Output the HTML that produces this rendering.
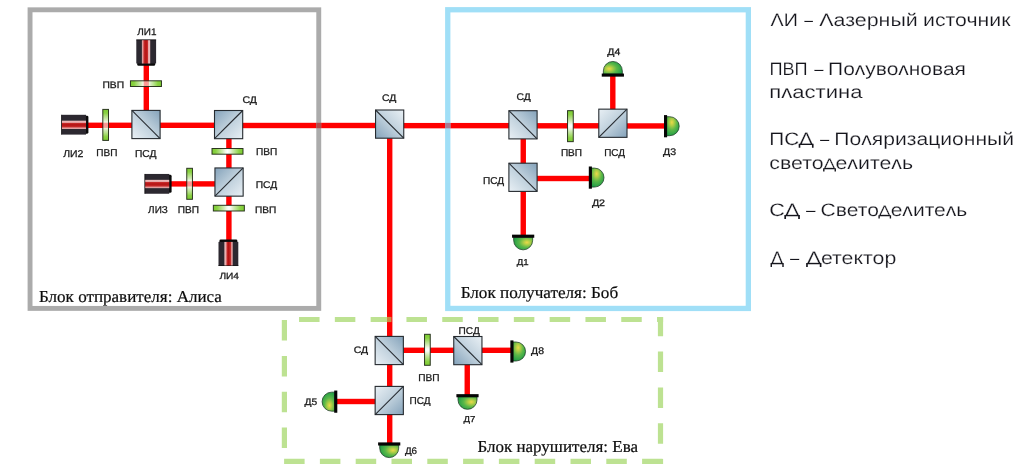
<!DOCTYPE html>
<html lang="ru">
<head>
<meta charset="utf-8">
<title>Схема</title>
<style>
html,body{margin:0;padding:0;background:#fff;}
body{width:1024px;height:475px;overflow:hidden;font-family:"Liberation Sans",sans-serif;}
svg{display:block;will-change:transform;}
text{white-space:pre;text-rendering:geometricPrecision;}
</style>
</head>
<body>
<svg width="1024" height="475" viewBox="0 0 1024 475">

<defs>
  <linearGradient id="gCube" x1="0" y1="1" x2="1" y2="0">
    <stop offset="0" stop-color="#e9f0f5"/>
    <stop offset="0.5" stop-color="#bfd0dc"/>
    <stop offset="1" stop-color="#84a2ba"/>
  </linearGradient>
  <g id="cube">
    <rect x="-14.1" y="-14.1" width="28.2" height="28.2" fill="url(#gCube)" stroke="#262b30" stroke-width="1.1"/>
    <line x1="-14.1" y1="-14.1" x2="14.1" y2="14.1" stroke="#262b30" stroke-width="1.1"/>
  </g>
  <linearGradient id="gPlate" x1="0" y1="0" x2="1" y2="0">
    <stop offset="0" stop-color="#7ccb33"/>
    <stop offset="0.12" stop-color="#8ad242"/>
    <stop offset="0.34" stop-color="#cfeab3" stop-opacity="0.9"/>
    <stop offset="0.44" stop-color="#f3faec" stop-opacity="0.64"/>
    <stop offset="0.5" stop-color="#ffffff" stop-opacity="0.58"/>
    <stop offset="0.56" stop-color="#f3faec" stop-opacity="0.64"/>
    <stop offset="0.66" stop-color="#cfeab3" stop-opacity="0.9"/>
    <stop offset="0.88" stop-color="#8ad242"/>
    <stop offset="1" stop-color="#7ccb33"/>
  </linearGradient>
  <linearGradient id="gPlateO" x1="0" y1="0" x2="1" y2="0">
    <stop offset="0" stop-color="#7ccb33"/>
    <stop offset="0.12" stop-color="#8ad242"/>
    <stop offset="0.34" stop-color="#cfeab3"/>
    <stop offset="0.44" stop-color="#f3faec"/>
    <stop offset="0.5" stop-color="#ffffff"/>
    <stop offset="0.56" stop-color="#f3faec"/>
    <stop offset="0.66" stop-color="#cfeab3"/>
    <stop offset="0.88" stop-color="#8ad242"/>
    <stop offset="1" stop-color="#7ccb33"/>
  </linearGradient>
  <g id="plate">
    <rect x="-15.5" y="-2.85" width="31" height="5.7" fill="url(#gPlate)" stroke="#1b2312" stroke-opacity="0.9" stroke-width="1.0"/>
  </g>
  <g id="plateO">
    <rect x="-15.5" y="-2.85" width="31" height="5.7" fill="url(#gPlateO)" stroke="#1b2312" stroke-opacity="0.9" stroke-width="1.0"/>
  </g>
  <linearGradient id="gStripe" x1="0" y1="0" x2="1" y2="0">
    <stop offset="0" stop-color="#e6adad"/>
    <stop offset="0.15" stop-color="#df8e8e"/>
    <stop offset="0.24" stop-color="#ca2c2c"/>
    <stop offset="0.5" stop-color="#b31212"/>
    <stop offset="0.7" stop-color="#ca2c2c"/>
    <stop offset="0.79" stop-color="#e8a6a6"/>
    <stop offset="1" stop-color="#efc0c0"/>
  </linearGradient>
  <g id="laser">
    <path d="M-9.0,-4 H9.0 V-1.3 Q9.0,0 7.6,0 H-7.6 Q-9.0,0 -9.0,-1.3 Z" fill="#0a0a0a"/>
    <rect x="-9.9" y="-26.2" width="19.8" height="23.9" fill="#2c2830"/>
    <rect x="-9.9" y="-26.2" width="19.8" height="0.7" fill="#111"/>
    <rect x="-4.3" y="-25.6" width="8.3" height="23.3" fill="url(#gStripe)"/>
  </g>
  <radialGradient id="gDet" cx="0.30" cy="0.58" r="0.72">
    <stop offset="0" stop-color="#ecd94a"/>
    <stop offset="0.22" stop-color="#b5cf45"/>
    <stop offset="0.55" stop-color="#5cb848"/>
    <stop offset="1" stop-color="#1f9d47"/>
  </radialGradient>
  <g id="det">
    <path d="M-9.5,-2.5 V-5.7 A9.5,9.5 0 0 1 9.5,-5.7 V-2.5 Z" fill="url(#gDet)" stroke="#1c3a22" stroke-width="0.75"/>
    <rect x="-11.1" y="-3.1" width="22.2" height="3.1" fill="#050505"/>
  </g>
</defs>

<g id="beams">
<rect x="87" y="122.60" width="128.00" height="5.4" fill="#ff0000"/>
<rect x="242" y="122.80" width="134.00" height="5.4" fill="#ff0000"/>
<rect x="403" y="122.95" width="107.00" height="5.4" fill="#ff0000"/>
<rect x="536" y="123.10" width="64.00" height="5.4" fill="#ff0000"/>
<rect x="626" y="123.25" width="39.00" height="5.4" fill="#ff0000"/>
<rect x="143.60" y="64" width="5.4" height="47.00" fill="#ff0000"/>
<rect x="226.20" y="138" width="5.4" height="103.00" fill="#ff0000"/>
<rect x="170" y="181.20" width="45.00" height="5.4" fill="#ff0000"/>
<rect x="387.00" y="137" width="5.4" height="306.00" fill="#ff0000"/>
<rect x="402" y="347.60" width="109.00" height="5.4" fill="#ff0000"/>
<rect x="464.55" y="363" width="5.4" height="32.00" fill="#ff0000"/>
<rect x="336" y="398.80" width="40.00" height="5.4" fill="#ff0000"/>
<rect x="520.55" y="138" width="5.4" height="98.00" fill="#ff0000"/>
<rect x="536" y="175.80" width="53.50" height="5.4" fill="#ff0000"/>
<rect x="610.10" y="75" width="5.4" height="35.00" fill="#ff0000"/>
</g>
<g id="boxes" fill="none">
<rect x="30.05" y="9.8" width="288.7" height="298.6" stroke="#ababab" stroke-width="4.9"/>
<rect x="447.75" y="9.75" width="300.6" height="298.7" stroke="#a0dff7" stroke-width="5.3"/>
<rect x="316.3" y="122.8" width="4.9" height="5.4" fill="#b04848" stroke="none"/>
<rect x="445.1" y="122.9" width="5.3" height="5.4" fill="#a87890" stroke="none"/>
<g stroke="#bde292" stroke-width="5.2" stroke-dasharray="20.5 15.3">
<line x1="299.05" y1="319.5" x2="663.1" y2="319.5"/>
<line x1="284.1" y1="461.45" x2="663.1" y2="461.45"/>
<line x1="284.4" y1="320.1" x2="284.4" y2="450"/>
<line x1="660.5" y1="316.9" x2="660.5" y2="464.05" stroke-dashoffset="1.1"/>
</g>
<rect x="387.0" y="316.9" width="4.3" height="5.2" fill="#cc8840" stroke="none"/>
</g>
<g id="parts">
<use href="#laser" transform="translate(146.20,65.80) rotate(0) scale(1,1.0)"/>
<use href="#plate" transform="translate(145.95,83.65)"/>
<use href="#laser" transform="translate(88.40,124.70) rotate(-90) scale(1,1.033)"/>
<use href="#plate" transform="translate(105.65,124.90) rotate(90)"/>
<use href="#cube" transform="translate(146.00,124.50) rotate(0)"/>
<use href="#cube" transform="translate(228.60,124.60) rotate(-90)"/>
<use href="#plateO" transform="translate(227.50,151.35)"/>
<use href="#cube" transform="translate(229.05,182.05) rotate(-90)"/>
<use href="#laser" transform="translate(171.60,183.85) rotate(-90) scale(1,1.03)"/>
<use href="#plate" transform="translate(189.60,183.80) rotate(90)"/>
<use href="#plateO" transform="translate(228.85,208.15)"/>
<use href="#laser" transform="translate(228.40,239.60) rotate(180) scale(1,1.008)"/>
<use href="#cube" transform="translate(389.65,124.10) rotate(180)"/>
<use href="#cube" transform="translate(523.00,124.80) rotate(0)"/>
<use href="#plateO" transform="translate(570.40,126.15) rotate(90)"/>
<use href="#cube" transform="translate(612.90,123.25) rotate(90)"/>
<use href="#det" transform="translate(612.85,76.65) rotate(0)"/>
<use href="#det" transform="translate(664.00,126.20) rotate(90)"/>
<use href="#cube" transform="translate(523.00,177.30) rotate(0)"/>
<use href="#det" transform="translate(588.80,177.60) rotate(90)"/>
<use href="#det" transform="translate(523.15,234.65) rotate(180)"/>
<use href="#cube" transform="translate(389.25,350.50) rotate(0)"/>
<use href="#plateO" transform="translate(427.40,349.80) rotate(90)"/>
<use href="#cube" transform="translate(467.85,350.60) rotate(180)"/>
<use href="#det" transform="translate(510.35,351.50) rotate(90)"/>
<use href="#det" transform="translate(467.50,394.15) rotate(180)"/>
<use href="#cube" transform="translate(389.25,400.50) rotate(90)"/>
<use href="#det" transform="translate(337.30,401.65) rotate(-90)"/>
<use href="#det" transform="translate(389.20,442.40) rotate(180)"/>
</g>
<g id="labels" font-family="'Liberation Sans', sans-serif" fill="#1a1a1a" stroke="#1a1a1a" stroke-width="0.28">
<text transform="translate(137.30,35.00) scale(1.0392,1)" font-size="9.57">ЛИ1</text>
<text transform="translate(102.38,87.90) scale(1.0771,1)" font-size="9.57">ПВП</text>
<text transform="translate(63.20,157.00) scale(1.0428,1)" font-size="10.00">ЛИ2</text>
<text transform="translate(96.30,156.10) scale(1.0124,1)" font-size="9.93">ПВП</text>
<text transform="translate(134.88,157.00) scale(1.0250,1)" font-size="10.00">ПСД</text>
<text transform="translate(242.47,103.00) scale(1.1006,1)" font-size="9.57">СД</text>
<text transform="translate(255.99,154.90) scale(1.0103,1)" font-size="10.00">ПВП</text>
<text transform="translate(255.68,187.60) scale(1.0551,1)" font-size="9.71">ПСД</text>
<text transform="translate(148.10,213.20) scale(0.9948,1)" font-size="10.00">ЛИЗ</text>
<text transform="translate(177.69,212.90) scale(1.0250,1)" font-size="9.86">ПВП</text>
<text transform="translate(254.89,212.90) scale(1.0635,1)" font-size="9.50">ПВП</text>
<text transform="translate(219.40,278.75) scale(1.1199,1)" font-size="9.07">ЛИ4</text>
<text transform="translate(381.88,101.30) scale(1.0928,1)" font-size="9.50">СД</text>
<text transform="translate(516.58,99.60) scale(1.0767,1)" font-size="9.57">СД</text>
<text transform="translate(560.90,156.10) scale(1.0052,1)" font-size="10.00">ПВП</text>
<text transform="translate(604.20,156.10) scale(0.9950,1)" font-size="10.00">ПСД</text>
<text transform="translate(663.09,154.60) scale(1.1068,1)" font-size="9.57">Д3</text>
<text transform="translate(607.29,55.00) scale(1.0975,1)" font-size="9.57">Д4</text>
<text transform="translate(482.99,184.40) scale(1.0100,1)" font-size="10.00">ПСД</text>
<text transform="translate(591.89,205.70) scale(1.1331,1)" font-size="9.43">Д2</text>
<text transform="translate(516.80,265.40) scale(1.1083,1)" font-size="8.71">Д1</text>
<text transform="translate(353.68,353.10) scale(1.1092,1)" font-size="9.43">СД</text>
<text transform="translate(418.29,380.60) scale(1.0155,1)" font-size="10.00">ПВП</text>
<text transform="translate(458.59,333.50) scale(1.0321,1)" font-size="9.79">ПСД</text>
<text transform="translate(531.05,353.80) scale(1.0935,1)" font-size="9.57">Д8</text>
<text transform="translate(463.50,422.40) scale(1.1230,1)" font-size="8.60">Д7</text>
<text transform="translate(409.50,403.60) scale(1.0122,1)" font-size="9.93">ПСД</text>
<text transform="translate(304.55,405.00) scale(1.0758,1)" font-size="9.57">Д5</text>
<text transform="translate(404.90,453.55) scale(1.0348,1)" font-size="9.50">Д6</text>
</g>
<g id="caps" font-family="'Liberation Serif', serif" fill="#0d0d0d" stroke="#0d0d0d" stroke-width="0.2">
<text transform="translate(38.99,301.60) scale(1.0217,1)" font-size="16.7">Блок отправителя: Алиса</text>
<text transform="translate(460.64,297.90) scale(1.0272,1)" font-size="16.7">Блок получателя: Боб</text>
<text transform="translate(477.39,451.55) scale(1.0188,1)" font-size="16.7">Блок нарушителя: Ева</text>
</g>
<g id="legend" font-family="'Liberation Sans', sans-serif" fill="#15151c" stroke="#fff" stroke-width="0.18">
<text transform="translate(770.50,26.3) scale(1.0938,1)" font-size="18.0">ΛИ</text>
<text transform="translate(804.25,26.3) scale(0.8750,1)" font-size="18.0">–</text>
<text transform="translate(819.25,26.3) scale(1.1890,1)" font-size="18.0">Λазерный</text>
<text transform="translate(923.07,26.3) scale(1.1815,1)" font-size="18.0">источник</text>
<text transform="translate(769.49,74.5) scale(1.0069,1)" font-size="18.0">ПВП</text>
<text transform="translate(814.25,74.5) scale(0.9250,1)" font-size="18.0">–</text>
<text transform="translate(828.09,74.5) scale(1.1638,1)" font-size="18.0">Поᴧувоᴧновая</text>
<text transform="translate(769.27,97.6) scale(1.2267,1)" font-size="18.0">пᴧастина</text>
<text transform="translate(769.35,145.1) scale(1.1516,1)" font-size="18.0">ПСΔ</text>
<path transform="translate(769.35,145.1) scale(1.1516,1)" d="M25.47,-1.30H38.40V2.70H36.99V0H26.88V2.70H25.47Z" stroke="none"/>
<text transform="translate(820.00,145.1) scale(0.9250,1)" font-size="18.0">–</text>
<text transform="translate(834.33,145.1) scale(1.1722,1)" font-size="18.0">Поᴧяризационный</text>
<text transform="translate(769.32,169.3) scale(1.1833,1)" font-size="18.0">свето<tspan font-size="15.12">Δ</tspan>еᴧитеᴧь</text>
<path transform="translate(769.32,169.3) scale(1.1833,1)" d="M45.45,-1.09H56.31V2.27H55.13V0H46.63V2.27H45.45Z" stroke="none"/>
<text transform="translate(769.30,216.3) scale(1.2005,1)" font-size="18.0">СΔ</text>
<path transform="translate(769.30,216.3) scale(1.2005,1)" d="M12.53,-1.30H25.46V2.70H24.05V0H13.94V2.70H12.53Z" stroke="none"/>
<text transform="translate(806.00,216.3) scale(0.9500,1)" font-size="18.0">–</text>
<text transform="translate(820.58,216.3) scale(1.1694,1)" font-size="18.0">Свето<tspan font-size="15.12">Δ</tspan>еᴧитеᴧь</text>
<path transform="translate(820.58,216.3) scale(1.1694,1)" d="M49.45,-1.09H60.31V2.27H59.13V0H50.63V2.27H49.45Z" stroke="none"/>
<text transform="translate(771.01,264.3) scale(1.0193,1)" font-size="18.0">Δ</text>
<path transform="translate(771.01,264.3) scale(1.0193,1)" d="M-0.45,-1.30H12.47V2.70H11.07V0H0.95V2.70H-0.45Z" stroke="none"/>
<text transform="translate(790.00,264.3) scale(0.9250,1)" font-size="18.0">–</text>
<text transform="translate(806.67,264.3) scale(1.1844,1)" font-size="18.0">Δетектор</text>
<path transform="translate(806.67,264.3) scale(1.1844,1)" d="M-0.45,-1.30H12.47V2.70H11.07V0H0.95V2.70H-0.45Z" stroke="none"/>
</g>
</svg>
</body>
</html>
